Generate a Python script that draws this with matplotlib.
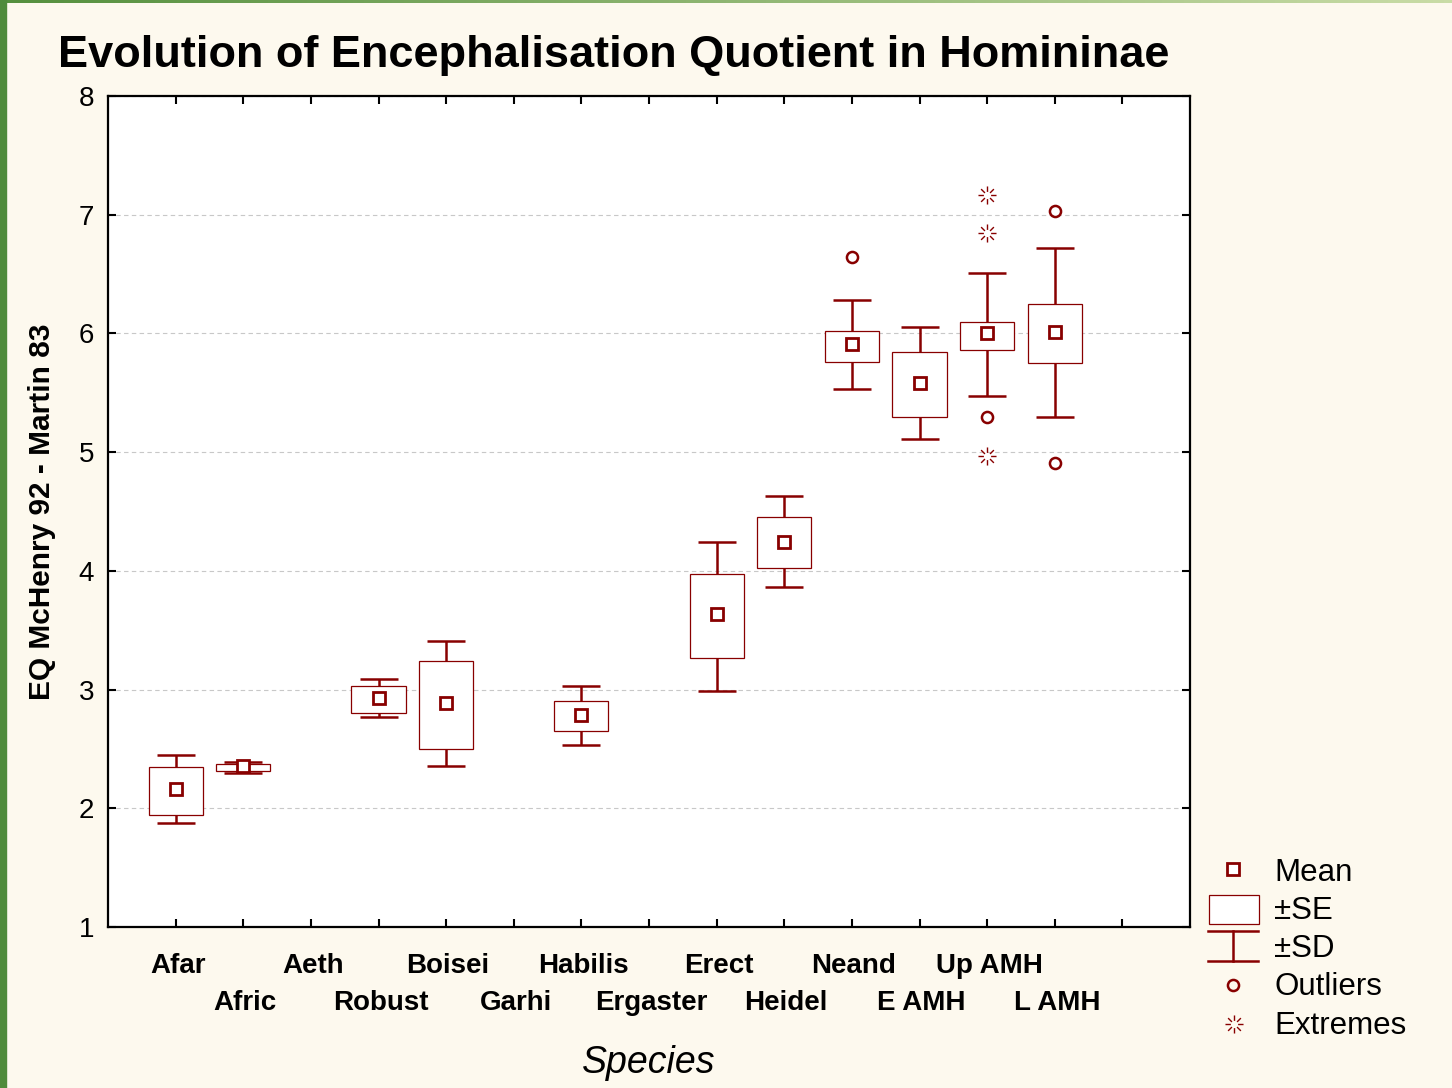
import numpy as np
import matplotlib
matplotlib.use("Agg")
import matplotlib.pyplot as plt
from matplotlib.path import Path
from matplotlib.patches import Rectangle
from matplotlib.colors import LinearSegmentedColormap

# EQ values
species = ["Afar", "Afric", "Aeth", "Robust", "Boisei", "Garhi", "Habilis",
           "Ergaster", "Erect", "Heidel", "Neand", "E AMH", "Up AMH", "L AMH"]
nan = np.nan
eq_mean = [2.16, 2.36, nan, 2.93, 2.89, nan, 2.79, nan, 3.64, 4.24, 5.91, 5.58, 6.00, 6.01]
se_low = [1.94, 2.31, nan, 2.80, 2.50, nan, 2.65, nan, 3.27, 4.02, 5.76, 5.30, 5.86, 5.75]
se_high = [2.35, 2.37, nan, 3.03, 3.24, nan, 2.90, nan, 3.97, 4.45, 6.02, 5.84, 6.10, 6.25]
sd_low = [1.88, 2.30, nan, 2.77, 2.36, nan, 2.53, nan, 2.99, 3.86, 5.53, 5.11, 5.47, 5.30]
sd_high = [2.45, 2.39, nan, 3.09, 3.41, nan, 3.03, nan, 4.24, 4.63, 6.28, 6.05, 6.51, 6.72]

outlier_species = ["Neand", "Up AMH", "L AMH", "L AMH"]
outlier_eq = [6.64, 5.30, 7.03, 4.91]
extreme_species = ["Up AMH", "Up AMH", "Up AMH"]
extreme_eq = [7.17, 6.85, 4.97]

RED = "#880000"
BG = "#fdf9ee"
FONT = "Liberation Sans"

plt.rcParams['font.family'] = [FONT, 'DejaVu Sans']

# "burst" marker used by Statistica for extremes
verts, codes = [], []
for a in np.deg2rad(np.arange(0, 360, 45)):
    verts += [(0.4 * np.cos(a), 0.4 * np.sin(a)), (np.cos(a), np.sin(a))]
    codes += [Path.MOVETO, Path.LINETO]
burst = Path(verts, codes)

fig = plt.figure(figsize=(14.52, 10.88), dpi=100, facecolor=BG)
ax = fig.add_axes([108 / 1452, 1 - 927 / 1088, (1190 - 108) / 1452, (927 - 96) / 1088])
ax.set_facecolor("white")

x = np.arange(1, len(species) + 1)
mean = np.array(eq_mean)
lo_se, hi_se = np.array(se_low), np.array(se_high)
lo_sd, hi_sd = np.array(sd_low), np.array(sd_high)
ok = ~np.isnan(mean)

ax.errorbar(x[ok], mean[ok], yerr=[mean[ok] - lo_sd[ok], hi_sd[ok] - mean[ok]],
            fmt='none', ecolor=RED, elinewidth=1.8, capsize=13.5, capthick=1.8, zorder=2)
ax.bar(x[ok], hi_se[ok] - lo_se[ok], bottom=lo_se[ok], width=0.8,
       facecolor="white", edgecolor=RED, linewidth=0.9, zorder=3)
ax.plot(x[ok], mean[ok], linestyle='none', marker='s', ms=8.5,
        mfc="white", mec=RED, mew=2, zorder=4)

pos = {s: i + 1 for i, s in enumerate(species)}
ax.plot([pos[s] for s in outlier_species], outlier_eq, linestyle='none', marker='o',
        ms=8, mfc="none", mec=RED, mew=1.8, zorder=4)
ax.plot([pos[s] for s in extreme_species], extreme_eq, linestyle='none', marker=burst,
        ms=13, mec=RED, mew=1.0, zorder=4)

ax.set_xlim(0, 16)
ax.set_ylim(1, 8)
ax.set_yticks(range(1, 9))
ax.set_xticks(range(1, 16))
ax.set_xticklabels([])
# staggered category labels, two rows
for i, s in enumerate(species):
    ax.annotate(s, xy=(i + 1, 0), xycoords=('data', 'axes fraction'),
                xytext=(2, -26 if i % 2 == 0 else -63), textcoords='offset pixels',
                ha='center', va='top', fontsize=20, fontweight='bold')
ax.tick_params(axis='y', labelsize=20, pad=10)
ax.tick_params(direction='in', length=6, width=1.5, top=True, right=True)
ax.yaxis.grid(True, linestyle=(0, (4, 3)), color='#c8c8c8', linewidth=0.8)
ax.set_axisbelow(True)
for sp in ax.spines.values():
    sp.set_linewidth(1.6)

ax.set_ylabel("EQ McHenry 92 - Martin 83", fontsize=21.5, fontweight='bold', labelpad=16)
ax.text(0.5, -0.142, "Species", transform=ax.transAxes, fontsize=27, style='italic',
        ha='center', va='top')

fig.text(58 / 1452, 1 - 55 / 1088, "Evolution of Encephalisation Quotient in Homininae",
         ha='left', va='center', fontsize=32.5, fontweight='bold')

# overlay in pixel units: green frame and legend
lax = fig.add_axes([0, 0, 1, 1])
lax.patch.set_alpha(0)
green = LinearSegmentedColormap.from_list("g", ["#55903e", "#c9dca6"])
lax.imshow(np.linspace(0, 1, 256)[None, :], cmap=green, aspect='auto',
           extent=[0, 1452, 3, 0])
lax.add_patch(Rectangle((0, 0), 6, 1088, color="#4f8b3b"))
lax.set_xlim(0, 1452)
lax.set_ylim(1088, 0)
lax.axis('off')

lx = 1233
lax.plot(lx, 869, marker='s', ms=8.5, mfc="white", mec=RED, mew=2)
lax.add_patch(Rectangle((1209, 895), 50, 29, facecolor="white", edgecolor=RED, lw=0.9))
lax.plot([1208, 1258], [931, 931], color=RED, lw=1.8)
lax.plot([1208, 1258], [961, 961], color=RED, lw=1.8)
lax.plot([lx, lx], [931, 961], color=RED, lw=1.8)
lax.plot(lx, 985, marker='o', ms=8, mfc="none", mec=RED, mew=1.8)
lax.plot(lx + 1, 1024, marker=burst, ms=13, mec=RED, mew=1.0)
for txt, yy in zip(["Mean", "±SE", "±SD", "Outliers", "Extremes"], [873, 911, 949, 987, 1026]):
    lax.text(1274, yy, txt, fontsize=22.5, va='center', ha='left')

fig.savefig("out.png", dpi=100, facecolor=BG)
